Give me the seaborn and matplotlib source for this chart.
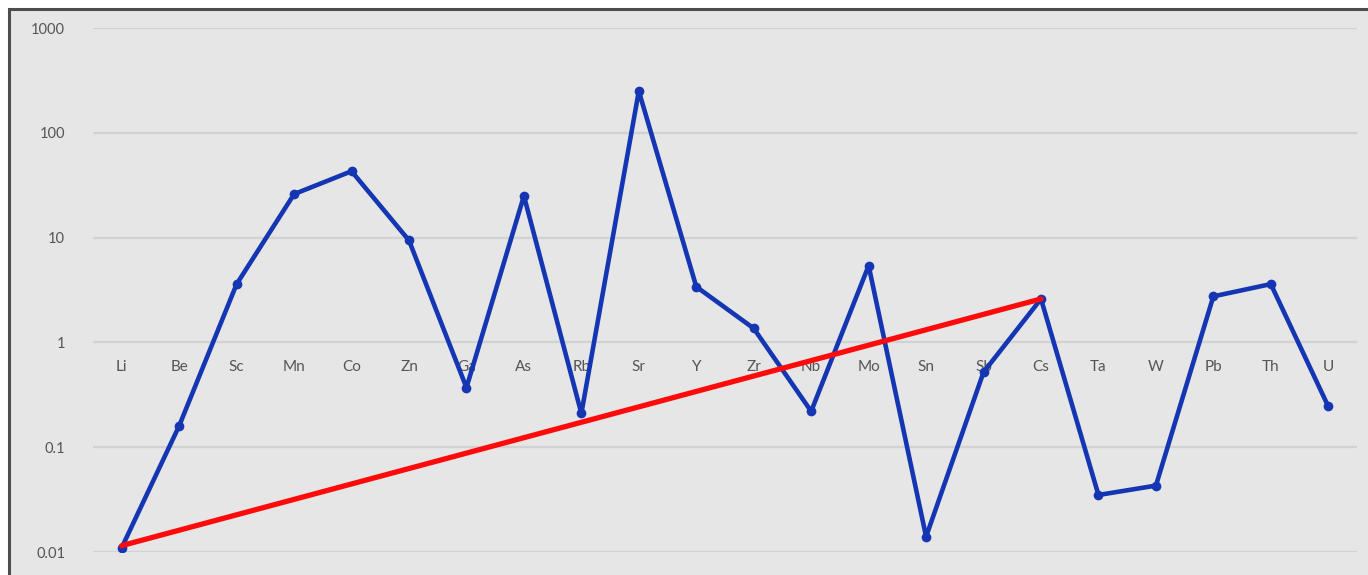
import numpy as np
import pandas as pd
import matplotlib.pyplot as plt
import matplotlib.patches as mpatches
import seaborn as sns

elements = ['Li', 'Be', 'Sc', 'Mn', 'Co', 'Zn', 'Ga', 'As', 'Rb', 'Sr', 'Y',
            'Zr', 'Nb', 'Mo', 'Sn', 'Sb', 'Cs', 'Ta', 'W', 'Pb', 'Th', 'U']
values = [0.011, 0.16, 3.6, 26, 43, 9.4, 0.37, 25, 0.21, 250, 3.4,
          1.36, 0.22, 5.4, 0.014, 0.52, 2.6, 0.035, 0.043, 2.75, 3.6, 0.245]

trend_elements = ['Li', 'Cs']
trend_values = [0.0115, 2.6]

ytick_vals = [0.01, 0.1, 1, 10, 100, 1000]
ytick_labels = ['0.01', '0.1', '1', '10', '100', '1000']

df = pd.DataFrame({'pos': np.arange(len(elements)), 'value': values})
trend_df = pd.DataFrame({'pos': [elements.index(e) for e in trend_elements],
                         'value': trend_values})

sns.set_style('white')
plt.rcParams['font.family'] = ['Lato', 'DejaVu Sans']

W, H = 1368, 575
fig = plt.figure(figsize=(W / 100, H / 100), dpi=100)
fig.patch.set_facecolor('white')

# chart-area background with dark frame (left/top visible, right/bottom cropped)
bg = mpatches.Rectangle((9 / W, -0.05), 1.1, (H - 9) / H + 0.05,
                        transform=fig.transFigure, facecolor='#e6e6e6',
                        edgecolor='#4d4d4d', linewidth=2.2, zorder=-1)
fig.patches.append(bg)

ax = fig.add_axes([93 / W, (H - 552) / H, (1357 - 93) / W, (552 - 28) / H])
ax.set_facecolor('none')

sns.lineplot(data=df, x='pos', y='value', ax=ax, color='#1436b2',
             linewidth=3.3, marker='o', markersize=7, markeredgewidth=0,
             sort=False, zorder=3)
sns.lineplot(data=trend_df, x='pos', y='value', ax=ax, color='#ff0a0a',
             linewidth=3.8, sort=False, zorder=4)

ax.set_yscale('log')
ax.set_ylim(0.01, 1000)
ax.set_xlim(-0.5, len(elements) - 0.5)
ax.set_yticks(ytick_vals)
ax.set_yticklabels(ytick_labels)
ax.minorticks_off()
ax.set_xticks([])
ax.set_xlabel('')
ax.set_ylabel('')
ax.tick_params(axis='y', length=0, pad=20, labelsize=10.5, labelcolor='#555555')
ax.grid(axis='y', color='#d2d2d2', linewidth=1.6, zorder=0)
ax.set_axisbelow(True)
for s in ax.spines.values():
    s.set_visible(False)

# category labels sit just under the value-1 line
for i, el in enumerate(elements):
    ax.annotate(el, xy=(i, 1), xytext=(0, -18), textcoords='offset points',
                ha='center', va='center', fontsize=11, color='#555555',
                zorder=1)

fig.savefig('out.png', dpi=100)
